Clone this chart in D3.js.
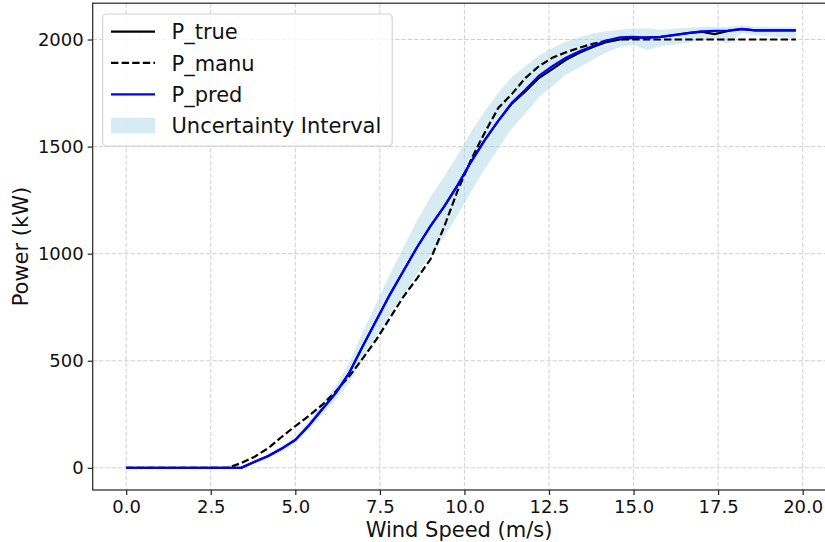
<!DOCTYPE html>
<html>
<head>
<meta charset="utf-8">
<script src="https://cdn.jsdelivr.net/npm/d3@7"></script>
<style>
  body { margin: 0; background: white; }
  svg { display: block; font-family: "DejaVu Sans", sans-serif; }
</style>
</head>
<body>
<svg id="chart" width="825" height="542"></svg>
<script>
// wind speed bins (m/s)
var windSpeed = [0, 0.2, 0.6, 1.0, 1.4, 1.8, 2.2, 2.6, 3.0, 3.4, 3.8, 4.2, 4.6, 5.0, 5.4, 5.8, 6.2, 6.6, 7.0, 7.4,
  7.8, 8.2, 8.6, 9.0, 9.4, 9.8, 10.2, 10.6, 11.0, 11.4, 11.8, 12.2, 12.6, 13.0, 13.4, 13.8, 14.2, 14.6, 15.0, 15.4,
  15.8, 16.2, 16.6, 17.0, 17.4, 17.8, 18.2, 18.6, 19.0, 19.4, 19.8];

var pTrue = [0, 0, 0, 0, 0, 0, 0, 0, 0, 0, 28, 55, 90, 130, 198, 275, 350, 445, 570, 690,
  810, 920, 1030, 1130, 1220, 1320, 1430, 1530, 1620, 1700, 1758, 1820, 1862, 1905, 1938, 1965, 1988, 2000, 2008, 2010,
  2012, 2020, 2030, 2036, 2025, 2040, 2048, 2043, 2043, 2043, 2043];

var pManu = [0, 0, 0, 0, 0, 0, 0, 0, 0, 22, 52, 92, 145, 195, 242, 295, 358, 428, 512, 600,
  700, 800, 885, 975, 1125, 1295, 1440, 1565, 1680, 1745, 1820, 1875, 1915, 1940, 1962, 1980, 1995, 2000, 2000, 2000,
  2000, 2000, 2000, 2000, 2000, 2000, 2000, 2000, 2000, 2000, 2000];

var pPred = [0, 0, 0, 0, 0, 0, 0, 0, 0, 0, 28, 55, 90, 130, 198, 275, 350, 445, 570, 690,
  810, 920, 1030, 1130, 1220, 1320, 1430, 1530, 1620, 1705, 1765, 1830, 1875, 1915, 1945, 1970, 1995, 2010, 2012, 2008,
  2012, 2022, 2030, 2038, 2040, 2042, 2050, 2043, 2043, 2043, 2043];

var pLower = [0, 0, 0, 0, 0, 0, 0, 0, 0, 0, 20, 45, 78, 115, 178, 250, 318, 400, 505, 612,
  715, 810, 905, 995, 1080, 1180, 1290, 1395, 1490, 1585, 1655, 1730, 1780, 1835, 1870, 1905, 1940, 1965, 1975, 1950,
  1970, 1975, 1985, 1995, 2000, 1980, 2030, 2020, 2015, 2010, 2005];

var pUpper = [0, 0, 0, 0, 0, 0, 0, 0, 0, 4, 36, 65, 102, 145, 218, 300, 384, 492, 636, 770,
  905, 1030, 1155, 1265, 1360, 1460, 1570, 1665, 1750, 1825, 1875, 1925, 1960, 1990, 2010, 2028, 2038, 2045, 2050, 2052,
  2045, 2050, 2055, 2058, 2060, 2058, 2066, 2058, 2058, 2058, 2056];

var xTicks = [0, 2.5, 5, 7.5, 10, 12.5, 15, 17.5, 20];
var yTicks = [0, 500, 1000, 1500, 2000];

var legendLabels = ["P_true", "P_manu", "P_pred", "Uncertainty Interval"];

var svg = d3.select("#chart");

var plot = { left: 92.7, right: 829.4, top: 3.2, bottom: 490 };

var x = d3.scaleLinear().domain([-0.99, 20.79]).range([plot.left, plot.right]);
var y = d3.scaleLinear().domain([-103.5, 2169.5]).range([plot.bottom, plot.top]);

var rows = windSpeed.map(function(w, i) {
  return { w: w, t: pTrue[i], m: pManu[i], p: pPred[i], lo: pLower[i], hi: pUpper[i] };
});

// grid
var grid = svg.append("g");
grid.selectAll("line.gx").data(xTicks).enter().append("line")
  .attr("x1", function(d) { return x(d); }).attr("x2", function(d) { return x(d); })
  .attr("y1", plot.top).attr("y2", plot.bottom);
grid.selectAll("line.gy").data(yTicks).enter().append("line")
  .attr("x1", plot.left).attr("x2", plot.right)
  .attr("y1", function(d) { return y(d); }).attr("y2", function(d) { return y(d); });
grid.selectAll("line")
  .attr("stroke", "#b0b0b0")
  .attr("stroke-opacity", 0.6)
  .attr("stroke-width", 1)
  .attr("stroke-dasharray", "4.4,1.9");

// uncertainty band
var area = d3.area()
  .x(function(d) { return x(d.w); })
  .y0(function(d) { return y(d.lo); })
  .y1(function(d) { return y(d.hi); });

svg.append("path").datum(rows)
  .attr("d", area)
  .attr("fill", "lightblue")
  .attr("fill-opacity", 0.5);

var line = function(key) {
  return d3.line()
    .x(function(d) { return x(d.w); })
    .y(function(d) { return y(d[key]); });
};

svg.append("path").datum(rows)
  .attr("d", line("t"))
  .attr("fill", "none").attr("stroke", "black").attr("stroke-width", 2.2);

svg.append("path").datum(rows)
  .attr("d", line("m"))
  .attr("fill", "none").attr("stroke", "black").attr("stroke-width", 2.2)
  .attr("stroke-dasharray", "7.4,3.2");

svg.append("path").datum(rows)
  .attr("d", line("p"))
  .attr("fill", "none").attr("stroke", "blue").attr("stroke-width", 2.2);

// axes
var xAxis = svg.append("g")
  .attr("transform", "translate(0," + plot.bottom + ")")
  .call(d3.axisBottom(x).tickValues(xTicks).tickFormat(d3.format(".1f")).tickSizeOuter(0).tickSize(5).tickPadding(5));

var yAxis = svg.append("g")
  .attr("transform", "translate(" + plot.left + ",0)")
  .call(d3.axisLeft(y).tickValues(yTicks).tickFormat(d3.format("d")).tickSizeOuter(0).tickSize(5).tickPadding(4));

[xAxis, yAxis].forEach(function(a) {
  a.select(".domain").remove();
  a.selectAll(".tick line").attr("stroke", "#222").attr("stroke-width", 1.2);
  a.selectAll(".tick text").attr("fill", "#111").attr("font-size", 18)
    .attr("font-family", "DejaVu Sans");
});

// spines
svg.append("rect")
  .attr("x", plot.left).attr("y", plot.top)
  .attr("width", plot.right - plot.left).attr("height", plot.bottom - plot.top)
  .attr("fill", "none").attr("stroke", "#222").attr("stroke-width", 1.2);

// axis labels
svg.append("text")
  .attr("x", (plot.left + plot.right) / 2 - 2).attr("y", 536.5)
  .attr("text-anchor", "middle").attr("font-size", 21).attr("fill", "#111")
  .text("Wind Speed (m/s)");

svg.append("text")
  .attr("transform", "translate(27.5," + ((plot.top + plot.bottom) / 2) + ") rotate(-90)")
  .attr("text-anchor", "middle").attr("font-size", 21).attr("fill", "#111")
  .text("Power (kW)");

// legend
var legend = svg.append("g");
legend.append("rect")
  .attr("x", 102.7).attr("y", 14).attr("width", 289.5).attr("height", 132).attr("rx", 4)
  .attr("fill", "white").attr("fill-opacity", 0.8)
  .attr("stroke", "#d0d0d0").attr("stroke-width", 1.1);

var rowY = [31.7, 62.9, 94.3, 125.6];
var styles = [
  { stroke: "black", dash: null },
  { stroke: "black", dash: "7.4,3.2" },
  { stroke: "blue", dash: null },
  null
];

legendLabels.forEach(function(label, i) {
  var s = styles[i];
  if (s) {
    legend.append("line")
      .attr("x1", 111).attr("x2", 155)
      .attr("y1", rowY[i]).attr("y2", rowY[i])
      .attr("stroke", s.stroke).attr("stroke-width", 2.2)
      .attr("stroke-dasharray", s.dash);
  } else {
    legend.append("rect")
      .attr("x", 111).attr("y", rowY[i] - 7.8).attr("width", 44).attr("height", 15.6)
      .attr("fill", "lightblue").attr("fill-opacity", 0.5);
  }
  legend.append("text")
    .attr("x", 171.5).attr("y", rowY[i] + 7.6)
    .attr("font-size", 21).attr("fill", "#111")
    .text(label);
});
</script>
</body>
</html>
